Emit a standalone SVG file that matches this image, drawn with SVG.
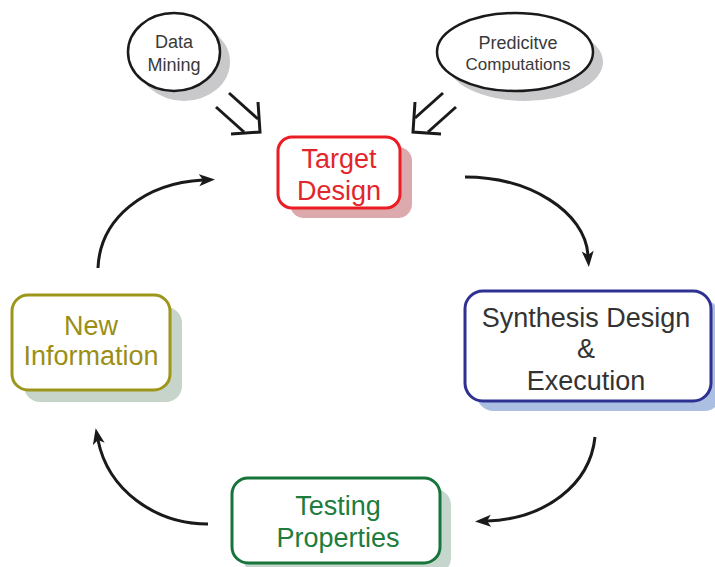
<svg xmlns="http://www.w3.org/2000/svg" width="715" height="567" viewBox="0 0 715 567">
<style>
text{font-family:"Liberation Sans",Arial,sans-serif;text-anchor:middle}
.box{fill:#fff;stroke-width:3}
.ell{fill:#fff;stroke:#1a1a1a;stroke-width:2.5}
.esh{fill:#c9c9cb}
.big{font-size:27px}
.sm{font-size:18px;fill:#3a3a3a}
.conn{fill:none;stroke:#1a1a1a;stroke-width:3}
.open{fill:none;stroke:#1a1a1a;stroke-width:3;stroke-linecap:butt}
</style>
<defs>
<marker id="ah" markerUnits="userSpaceOnUse" markerWidth="18" markerHeight="14" refX="4" refY="6" orient="auto">
<path d="M0,0 L16,6 L0,12 L4,6 z" fill="#1a1a1a"/>
</marker>
</defs>
<rect width="715" height="567" fill="#fff"/>
<g id="data-mining">
<ellipse class="esh" cx="184" cy="62" rx="46" ry="39"/>
<ellipse class="ell" cx="174" cy="52" rx="46" ry="39"/>
<text class="sm" x="174" y="48">Data</text>
<text class="sm" x="174" y="71">Mining</text>
</g>
<g id="predictive-computations">
<ellipse class="esh" cx="525" cy="62" rx="78" ry="39"/>
<ellipse class="ell" cx="515" cy="52" rx="78" ry="39"/>
<text class="sm" x="518" y="49" style="font-size:18px">Predicitve</text>
<text class="sm" x="518" y="70" style="font-size:17px">Computations</text>
</g>
<g id="target-design">
<rect x="290" y="147" width="122" height="71" rx="14" fill="#dca9ac"/>
<rect class="box" x="278" y="137" width="122" height="71" rx="14" stroke="#ec1c24"/>
<text class="big" x="339" y="168" fill="#e3262b">Target</text>
<text class="big" x="339" y="200" fill="#e3262b">Design</text>
</g>
<g id="synthesis-design">
<rect x="476" y="301" width="246" height="110" rx="18" fill="#aabfe2"/>
<rect class="box" x="465" y="291" width="246" height="110" rx="18" stroke="#2e3192"/>
<text class="big" x="586" y="327" fill="#333">Synthesis Design</text>
<text class="big" x="586" y="358" fill="#333">&amp;</text>
<text class="big" x="586" y="390" fill="#333">Execution</text>
</g>
<g id="testing-properties">
<rect x="243" y="489" width="208" height="85" rx="16" fill="#c5d6cc"/>
<rect class="box" x="232" y="478" width="208" height="85" rx="16" stroke="#17743b"/>
<text class="big" x="338" y="515" fill="#1e7c3c">Testing</text>
<text class="big" x="338" y="547" fill="#1e7c3c">Properties</text>
</g>
<g id="new-information">
<rect x="24" y="307" width="158" height="95" rx="16" fill="#c6d4ca"/>
<rect class="box" x="12" y="295" width="158" height="95" rx="16" stroke="#9e951b"/>
<text class="big" x="91" y="335" fill="#9a8f14">New</text>
<text class="big" x="91" y="365" fill="#9a8f14">Information</text>
</g>
<g id="connectors">
<line class="open" x1="229" y1="93" x2="258" y2="119"/>
<line class="open" x1="216" y1="107" x2="244" y2="132"/>
<polyline class="open" points="258,102 260,132 231,134"/>
<line class="open" x1="443" y1="93" x2="415" y2="118"/>
<line class="open" x1="456" y1="107" x2="428" y2="132"/>
<polyline class="open" points="415,102 413,132 441,134"/>
<path class="conn" marker-end="url(#ah)" d="M465,177 C530,177 585,212 588,255"/>
<path class="conn" marker-end="url(#ah)" d="M595,437 C590,485 545,519 487,521"/>
<path class="conn" marker-end="url(#ah)" d="M208,524 C155,524 108,490 98,440"/>
<path class="conn" marker-end="url(#ah)" d="M98,268 C100,218 145,183 203,180"/>
</g>
</svg>
